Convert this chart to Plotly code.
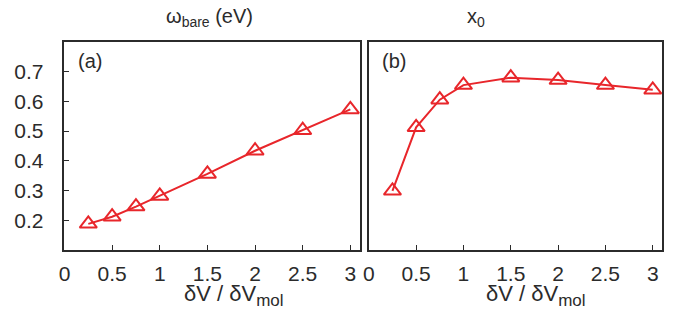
import plotly.graph_objects as go

dv = [0.25, 0.5, 0.75, 1.0, 1.5, 2.0, 2.5, 3.0]
omega_bare = [0.188, 0.212, 0.246, 0.282, 0.356, 0.434, 0.503, 0.573]
x0 = [0.299, 0.513, 0.606, 0.655, 0.680, 0.672, 0.655, 0.639]

xticks = [0, 0.5, 1, 1.5, 2, 2.5, 3]
xticklabels = ["0", "0.5", "1", "1.5", "2", "2.5", "3"]
yticks = [0.2, 0.3, 0.4, 0.5, 0.6, 0.7]
yticklabels = ["0.2", "0.3", "0.4", "0.5", "0.6", "0.7"]

W, H = 687, 331
red = "#e8262b"
dark = "#2b2b2b"
font = "Liberation Sans, Arial, Helvetica, sans-serif"

fig = go.Figure()
for i, ys in enumerate([omega_bare, x0]):
    fig.add_trace(go.Scatter(
        x=dv, y=ys, mode="lines+markers",
        xaxis="x" if i == 0 else "x2", yaxis="y" if i == 0 else "y2",
        line=dict(color=red, width=2),
        marker=dict(symbol="triangle-up-open", size=15, color=red,
                    line=dict(color=red, width=2)),
        cliponaxis=False, showlegend=False, hoverinfo="skip",
    ))

def px_x(p):
    return p / W

def px_y(p):
    return 1 - p / H

common_x = dict(range=[0, 3.1], tickvals=xticks, ticktext=xticklabels,
                ticks="inside", ticklen=5, tickwidth=1, tickcolor=dark,
                ticklabelstandoff=4,
                showline=True, linecolor=dark, linewidth=1.5, mirror=True,
                showgrid=False, zeroline=False,
                tickfont=dict(family=font, size=21, color=dark))
common_y = dict(range=[0.1, 0.8], showline=True, linecolor=dark, linewidth=1.5,
                mirror=True, showgrid=False, zeroline=False)

fig.update_layout(
    width=W, height=H,
    margin=dict(l=0, r=0, t=0, b=0),
    plot_bgcolor="white", paper_bgcolor="white",
    xaxis=dict(domain=[px_x(59), px_x(357)], anchor="y", **common_x),
    xaxis2=dict(domain=[px_x(366), px_x(662)], anchor="y2", **common_x),
    yaxis=dict(domain=[px_y(250), px_y(42)], anchor="x",
               tickvals=yticks, ticktext=yticklabels,
               ticks="inside", ticklen=5, tickwidth=1, tickcolor=dark,
               ticklabelstandoff=15,
               tickfont=dict(family=font, size=21, color=dark), **common_y),
    yaxis2=dict(domain=[px_y(250), px_y(42)], anchor="x2",
                showticklabels=False, ticks="", **common_y),
)

sub_style = '<sub><span style="font-size:17px">mol</span></sub>'
annotations = [
    dict(text="ω<sub>bare</sub> (eV)", x=px_x(205), y=px_y(18), size=20),
    dict(text="x<sub>0</sub>", x=px_x(474), y=px_y(18), size=20),
    dict(text="δV / δV" + sub_style, x=px_x(230), y=px_y(295), size=22),
    dict(text="δV / δV" + sub_style, x=px_x(535), y=px_y(295), size=22),
    dict(text="(a)", x=px_x(85), y=px_y(61), size=20),
    dict(text="(b)", x=px_x(391), y=px_y(61), size=20),
]
for a in annotations:
    s = a.pop("size")
    fig.add_annotation(xref="paper", yref="paper", showarrow=False,
                       xanchor="center", yanchor="middle",
                       font=dict(family=font, size=s, color=dark), **a)

fig.write_html("out.html",
               config={"displayModeBar": False},
               post_script="document.body.style.margin='0px';")
